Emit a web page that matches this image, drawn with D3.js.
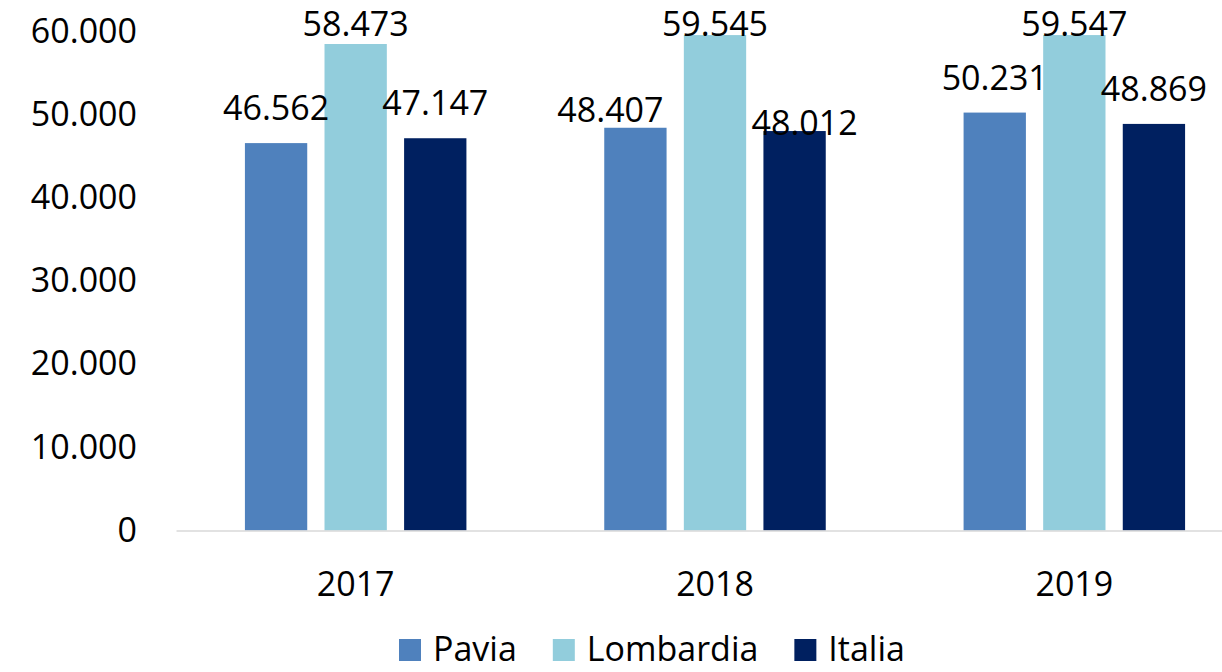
<!DOCTYPE html>
<html>
<head>
<meta charset="utf-8">
<script src="https://cdn.jsdelivr.net/npm/d3@7"></script>
<style>
  html, body { margin: 0; padding: 0; background: #fff; }
  svg { display: block; font-family: "Open Sans", "Liberation Sans", sans-serif; }
</style>
</head>
<body>
<div class="chart"></div>
<script>
var years = ['2017', '2018', '2019'];
var seriesNames = ['Pavia', 'Lombardia', 'Italia'];
var pavia = [46562, 48407, 50231];
var lombardia = [58473, 59545, 59547];
var italia = [47147, 48012, 48869];
var yTicks = [0, 10000, 20000, 30000, 40000, 50000, 60000];

var colors = {
  'Pavia': '#4F81BD',
  'Lombardia': '#92CDDC',
  'Italia': '#002060'
};

// labels that were dragged by hand in the original (2018 group)
var labelNudge = {
  'Pavia-2018': [-25, 17],
  'Italia-2018': [10, 27]
};

var W = 1222, H = 672;
var fontSize = 34;

var it = d3.formatLocale({ decimal: ',', thousands: '.', grouping: [3], currency: ['', '€'] });
var fmt = it.format(',d');

var svg = d3.select('.chart')
    .append('svg')
    .attr('width', W)
    .attr('height', H);

var x0 = d3.scaleBand()
    .domain(years)
    .range([176, 1254]);

var x1 = d3.scaleBand()
    .domain(seriesNames)
    .range([0, 221.5])
    .paddingInner(0.217);

var groupOffset = (x0.bandwidth() - 221.5) / 2;

var y = d3.scaleLinear()
    .domain([0, 60000])
    .range([530.5, 31.3]);

// y axis labels (no line)
var yAxis = svg.append('g')
    .attr('transform', 'translate(176,0)')
    .call(d3.axisLeft(y).tickValues(yTicks).tickFormat(fmt).tickSize(0).tickPadding(39))
    .attr('font-family', null)
    .attr('font-size', fontSize);
yAxis.select('.domain').remove();
yAxis.selectAll('text').attr('fill', '#000');

var vals = { 'Pavia': pavia, 'Lombardia': lombardia, 'Italia': italia };
var data = [];
years.forEach(function(yr, i) {
  seriesNames.forEach(function(s) {
    data.push({ year: yr, series: s, value: vals[s][i] });
  });
});

svg.selectAll('rect.bar')
    .data(data)
  .enter().append('rect')
    .attr('class', 'bar')
    .attr('x', function(d) { return x0(d.year) + groupOffset + x1(d.series); })
    .attr('y', function(d) { return y(d.value); })
    .attr('width', x1.bandwidth())
    .attr('height', function(d) { return y(0) - y(d.value); })
    .attr('fill', function(d) { return colors[d.series]; });

// x axis
var xAxis = svg.append('g')
    .attr('transform', 'translate(0,' + y(0) + ')')
    .call(d3.axisBottom(x0).tickSize(0).tickPadding(41))
    .attr('font-family', null)
    .attr('font-size', fontSize);
xAxis.select('.domain')
    .attr('stroke', '#D9D9D9')
    .attr('stroke-width', 1.5);
xAxis.selectAll('text').attr('fill', '#000');

// value labels
svg.selectAll('text.val')
    .data(data)
  .enter().append('text')
    .attr('class', 'val')
    .attr('text-anchor', 'middle')
    .attr('font-size', fontSize)
    .attr('x', function(d) {
      var n = labelNudge[d.series + '-' + d.year];
      return x0(d.year) + groupOffset + x1(d.series) + x1.bandwidth() / 2 + (n ? n[0] : 0);
    })
    .attr('y', function(d) {
      var n = labelNudge[d.series + '-' + d.year];
      var b = Math.max(y(d.value) - 23, 36);
      return b + (n ? n[1] : 0);
    })
    .text(function(d) { return fmt(d.value); });

// legend
var legend = svg.append('g');
var lx = 399;
seriesNames.forEach(function(s) {
  legend.append('rect')
      .attr('x', lx)
      .attr('y', 639)
      .attr('width', 22)
      .attr('height', 22)
      .attr('fill', colors[s]);
  var t = legend.append('text')
      .attr('x', lx + 34)
      .attr('y', 661)
      .attr('font-size', fontSize)
      .text(s);
  lx = lx + 34 + t.node().getComputedTextLength() + 36;
});
</script>
</body>
</html>
